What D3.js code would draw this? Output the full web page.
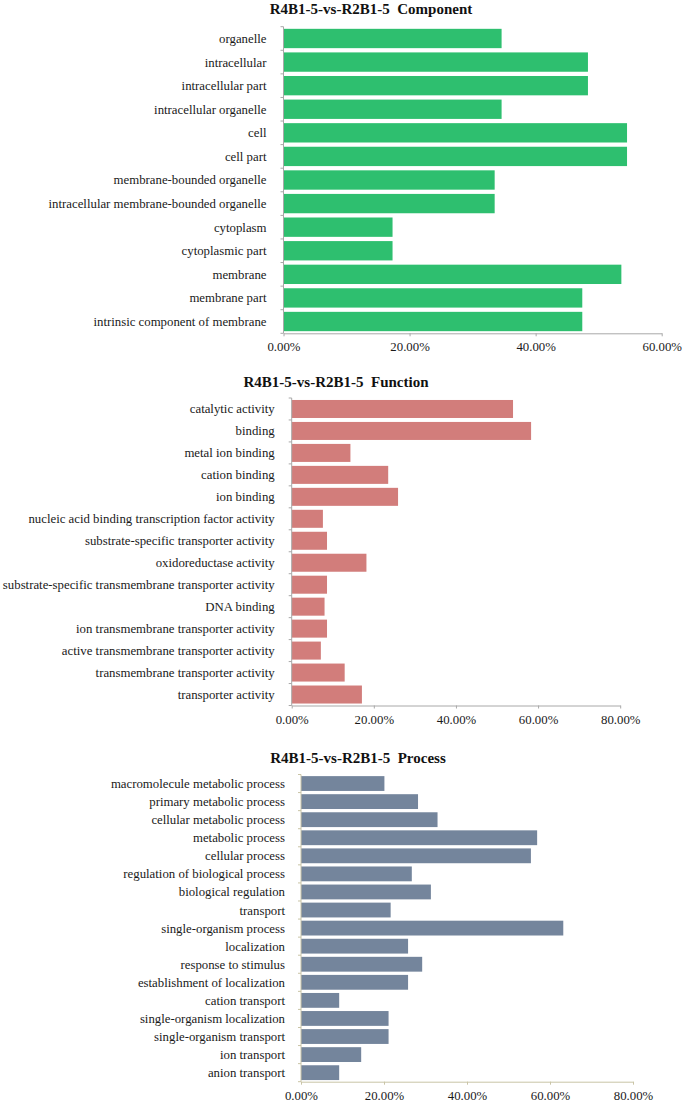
<!DOCTYPE html>
<html>
<head>
<meta charset="utf-8">
<script src="https://cdn.jsdelivr.net/npm/d3@7"></script>
<style>
  html, body { margin: 0; padding: 0; background: #fff; }
  svg { display: block; }
  text { font-family: "Liberation Serif", "Times New Roman", serif; }
</style>
</head>
<body>
<svg id="chart" width="685" height="1103"></svg>
<script>
// ---- Data ----
const componentCategories = [
  "organelle", "intracellular", "intracellular part", "intracellular organelle",
  "cell", "cell part", "membrane-bounded organelle",
  "intracellular membrane-bounded organelle", "cytoplasm", "cytoplasmic part",
  "membrane", "membrane part", "intrinsic component of membrane"
];
const componentValues = [0.346, 0.483, 0.483, 0.346, 0.545, 0.545, 0.335, 0.335, 0.173, 0.173, 0.536, 0.474, 0.474];
const componentTicks = [0, 0.2, 0.4, 0.6];

const functionCategories = [
  "catalytic activity", "binding", "metal ion binding", "cation binding", "ion binding",
  "nucleic acid binding transcription factor activity",
  "substrate-specific transporter activity", "oxidoreductase activity",
  "substrate-specific transmembrane transporter activity", "DNA binding",
  "ion transmembrane transporter activity", "active transmembrane transporter activity",
  "transmembrane transporter activity", "transporter activity"
];
const functionValues = [0.539, 0.583, 0.143, 0.235, 0.259, 0.076, 0.086, 0.182, 0.086, 0.080, 0.086, 0.071, 0.129, 0.171];
const functionTicks = [0, 0.2, 0.4, 0.6, 0.8];

const processCategories = [
  "macromolecule metabolic process", "primary metabolic process", "cellular metabolic process",
  "metabolic process", "cellular process", "regulation of biological process",
  "biological regulation", "transport", "single-organism process", "localization",
  "response to stimulus", "establishment of localization", "cation transport",
  "single-organism localization", "single-organism transport", "ion transport", "anion transport"
];
const processValues = [0.201, 0.282, 0.329, 0.569, 0.554, 0.267, 0.313, 0.216, 0.632, 0.258, 0.292, 0.258, 0.092, 0.211, 0.211, 0.145, 0.092];
const processTicks = [0, 0.2, 0.4, 0.6, 0.8];

const svg = d3.select("#chart");
const fmt = d3.format(".2%");

function drawChart(cfg) {
  const g = svg.append("g");
  const x = d3.scaleLinear().domain([0, cfg.ticks[cfg.ticks.length - 1]]).range([cfg.x0, cfg.x1]);
  const yBand = d3.scaleBand().domain(cfg.categories).range([cfg.yTop, cfg.yBottom])
    .paddingInner(0.18).paddingOuter(0.09);
  const ySlot = d3.scaleBand().domain(cfg.categories).range([cfg.yTop, cfg.yBottom]).padding(0);

  // title
  g.append("text")
    .attr("x", cfg.titleX).attr("y", cfg.titleY)
    .attr("text-anchor", "middle")
    .attr("font-size", 15).attr("font-weight", "bold").attr("fill", "#111")
    .style("white-space", "pre")
    .text(cfg.title);

  // bars
  g.selectAll("rect.bar").data(cfg.categories).enter().append("rect")
    .attr("class", "bar")
    .attr("x", x(0))
    .attr("y", d => yBand(d))
    .attr("width", (d, i) => x(cfg.values[i]) - x(0))
    .attr("height", yBand.bandwidth())
    .attr("fill", cfg.color);

  // category labels
  g.selectAll("text.cat").data(cfg.categories).enter().append("text")
    .attr("class", "cat")
    .attr("x", x(0) - cfg.labelGap)
    .attr("y", d => ySlot(d) + ySlot.bandwidth() / 2)
    .attr("dy", "0.35em")
    .attr("text-anchor", "end")
    .attr("font-size", 12.8)
    .attr("fill", "#1a1a1a")
    .text(d => d);

  // y axis line and boundary ticks
  g.append("line")
    .attr("x1", x(0)).attr("x2", x(0))
    .attr("y1", cfg.yTop).attr("y2", cfg.yBottom)
    .attr("stroke", cfg.axisColor).attr("stroke-width", 1);
  const bounds = cfg.categories.map(d => ySlot(d)).concat([cfg.yBottom]);
  g.selectAll("line.ytick").data(bounds).enter().append("line")
    .attr("class", "ytick")
    .attr("x1", x(0) - 3).attr("x2", x(0))
    .attr("y1", d => d).attr("y2", d => d)
    .attr("stroke", cfg.axisColor).attr("stroke-width", 1);

  // x axis
  const ax = g.append("g")
    .attr("transform", `translate(0,${cfg.yBottom})`)
    .call(d3.axisBottom(x).tickValues(cfg.ticks).tickFormat(fmt).tickSize(3).tickSizeOuter(0).tickPadding(6));
  ax.select(".domain").attr("stroke", cfg.axisColor);
  ax.selectAll(".tick line").attr("stroke", cfg.axisColor);
  ax.selectAll(".tick text")
    .attr("font-family", "Liberation Serif, Times New Roman, serif")
    .attr("font-size", 12.8)
    .attr("fill", "#1a1a1a");
}

drawChart({
  title: "R4B1-5-vs-R2B1-5  Component",
  titleX: 371, titleY: 14,
  categories: componentCategories, values: componentValues, ticks: componentTicks,
  x0: 283.5, x1: 661.7, yTop: 26.7, yBottom: 333.3,
  color: "#2ebf6f", axisColor: "#a8a8a8", labelGap: 17
});

drawChart({
  title: "R4B1-5-vs-R2B1-5  Function",
  titleX: 336, titleY: 387,
  categories: functionCategories, values: functionValues, ticks: functionTicks,
  x0: 291.7, x1: 620.2, yTop: 398, yBottom: 705.5,
  color: "#d27d7b", axisColor: "#a8a8a8", labelGap: 17
});

drawChart({
  title: "R4B1-5-vs-R2B1-5  Process",
  titleX: 358, titleY: 763,
  categories: processCategories, values: processValues, ticks: processTicks,
  x0: 301, x1: 633, yTop: 774.5, yBottom: 1081.7,
  color: "#74859c", axisColor: "#c9c4a6", labelGap: 16
});
</script>
</body>
</html>
